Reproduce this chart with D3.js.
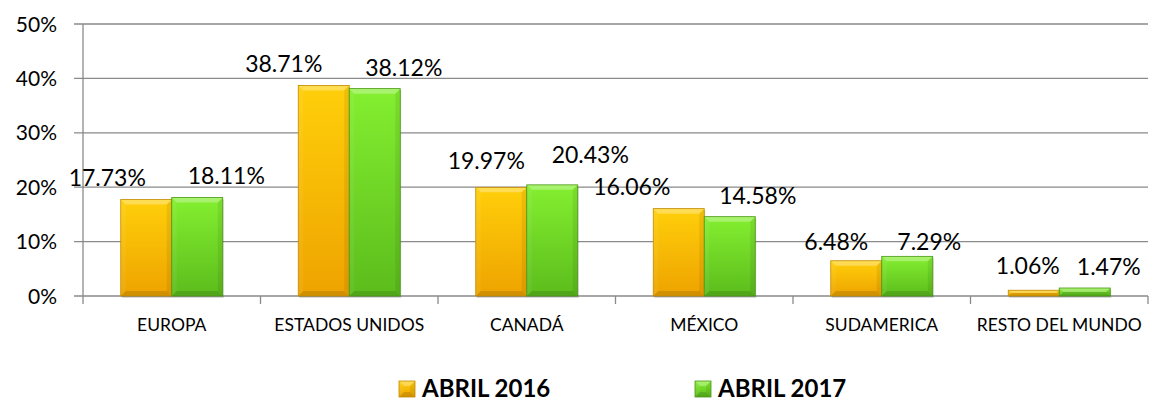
<!DOCTYPE html>
<html>
<head>
<meta charset="utf-8">
<script src="https://cdn.jsdelivr.net/npm/d3@7"></script>
<style>
    body { margin: 0; background: #fff; }
    #chart { width: 1152px; height: 402px; }
    text { font-family: Lato, "Open Sans", sans-serif; fill: #000; }
</style>
</head>
<body>
<div id="chart"></div>
<script>
// categories and series
let regions = ["EUROPA", "ESTADOS UNIDOS", "CANADÁ", "MÉXICO", "SUDAMERICA", "RESTO DEL MUNDO"]
let seriesNames = ["ABRIL 2016", "ABRIL 2017"]
let abril2016 = [17.73, 38.71, 19.97, 16.06, 6.48, 1.06]
let abril2017 = [18.11, 38.12, 20.43, 14.58, 7.29, 1.47]
let yTicks = [0, 10, 20, 30, 40, 50]

// label nudges (px) copied from the hand-placed labels in the original
let labelDx2016 = [-39, -40, -15, -47, -20, -6]
let labelDy2016 = [-22, -22, -27, -22, -19, -25]
let labelDx2017 = [29, 29, 38, 28, 22, 24]
let labelDy2017 = [-22, -21, -30, -21, -15, -21]

let vis_colors = [
    {top: "#ffcf0a", bottom: "#eea300", stroke: "#c18a00"},
    {top: "#84ef30", bottom: "#5cbc1c", stroke: "#4a9616"}
]

class barVis {

    constructor(parentElement) {
        this.parentElement = parentElement
        this.initVis()
    }

    initVis() {
        let vis = this

        vis.margin = {top: 24, right: 4, bottom: 106, left: 83}
        vis.width = 1152 - vis.margin.left - vis.margin.right
        vis.height = 402 - vis.margin.top - vis.margin.bottom

        vis.svg = d3.select(`#${vis.parentElement}`)
            .append("svg")
            .attr("width", 1152)
            .attr("height", 402)

        vis.g = vis.svg.append("g")
            .attr("transform", `translate(${vis.margin.left}, ${vis.margin.top})`)

        // gradients
        let defs = vis.svg.append("defs")
        vis_colors.forEach((c, i) => {
            let grad = defs.append("linearGradient")
                .attr("id", "grad" + i)
                .attr("x1", 0).attr("y1", 0).attr("x2", 0).attr("y2", 1)
            grad.append("stop").attr("offset", "0%").attr("stop-color", c.top)
            grad.append("stop").attr("offset", "100%").attr("stop-color", c.bottom)
        })

        vis.x = d3.scaleBand().domain(regions).range([0, vis.width]).padding(0)
        vis.xInner = d3.scaleBand().domain(seriesNames).range([0, 102]).padding(0)
        vis.y = d3.scaleLinear().domain([0, 50]).range([vis.height, 0])

        // gridlines + y ticks
        vis.g.selectAll(".grid")
            .data(yTicks)
            .enter().append("line")
            .attr("class", "grid")
            .attr("x1", -9)
            .attr("x2", vis.width)
            .attr("y1", d => vis.y(d))
            .attr("y2", d => vis.y(d))
            .attr("stroke", "#8a8a8a")
            .attr("stroke-width", 1.3)

        vis.g.append("line")
            .attr("x1", 0).attr("x2", 0)
            .attr("y1", 0).attr("y2", vis.height)
            .attr("stroke", "#8a8a8a")
            .attr("stroke-width", 1.3)

        vis.g.selectAll(".ylabels")
            .data(yTicks)
            .enter().append("text")
            .attr("class", "ylabels")
            .attr("x", -26)
            .attr("y", d => vis.y(d) + 7.5)
            .attr("text-anchor", "end")
            .attr("font-size", 21)
            .text(d => d + "%")

        // x ticks at category boundaries
        let bounds = regions.map(r => vis.x(r)).concat([vis.width])
        vis.g.selectAll(".xtick")
            .data(bounds)
            .enter().append("line")
            .attr("class", "xtick")
            .attr("x1", d => d).attr("x2", d => d)
            .attr("y1", vis.height).attr("y2", vis.height + 8)
            .attr("stroke", "#8a8a8a")
            .attr("stroke-width", 1.3)

        vis.g.selectAll(".xlabels")
            .data(regions)
            .enter().append("text")
            .attr("class", "xlabels")
            .attr("x", d => vis.x(d) + vis.x.bandwidth() / 2)
            .attr("y", vis.height + 35)
            .attr("text-anchor", "middle")
            .attr("font-size", 17.5)
            .text(d => d)

        vis.wrangleData()
    }

    wrangleData() {
        let vis = this

        vis.displayData = []
        regions.forEach((r, i) => {
            vis.displayData.push({region: r, series: 0, value: abril2016[i], dx: labelDx2016[i], dy: labelDy2016[i]})
            vis.displayData.push({region: r, series: 1, value: abril2017[i], dx: labelDx2017[i], dy: labelDy2017[i]})
        })

        vis.updateVis()
    }

    bevel(sel, x, y, w, h, s) {
        // draws the bevel faces on top of a plain bar
        let b = Math.min(5, h / 2, w / 2)
        sel.append("polygon")
            .attr("points", `${x},${y} ${x + w},${y} ${x + w - b},${y + b} ${x + b},${y + b}`)
            .attr("fill", "rgba(255,255,255,0.3)")
        sel.append("polygon")
            .attr("points", `${x},${y} ${x + b},${y + b} ${x + b},${y + h - b} ${x},${y + h}`)
            .attr("fill", "rgba(255,255,255,0.06)")
        sel.append("polygon")
            .attr("points", `${x + w},${y} ${x + w},${y + h} ${x + w - b},${y + h - b} ${x + w - b},${y + b}`)
            .attr("fill", "rgba(0,0,0,0.07)")
        sel.append("polygon")
            .attr("points", `${x},${y + h} ${x + b},${y + h - b} ${x + w - b},${y + h - b} ${x + w},${y + h}`)
            .attr("fill", "rgba(0,0,0,0.12)")
        sel.append("rect")
            .attr("x", x).attr("y", y)
            .attr("width", w).attr("height", h)
            .attr("fill", "none")
            .attr("stroke", vis_colors[s].stroke)
            .attr("stroke-width", 0.8)
    }

    updateVis() {
        let vis = this
        let bw = vis.xInner.bandwidth()

        vis.displayData.forEach(d => {
            let cx = vis.x(d.region) + vis.x.bandwidth() / 2 - 51
            let x = cx + vis.xInner(seriesNames[d.series])
            let y = vis.y(d.value)
            let h = vis.height - y
            let grp = vis.g.append("g").attr("class", "bar")

            // soft shadow
            grp.append("rect")
                .attr("x", x + 1).attr("y", y + 2)
                .attr("width", bw).attr("height", h)
                .attr("fill", "rgba(0,0,0,0.15)")
            grp.append("rect")
                .attr("x", x).attr("y", y)
                .attr("width", bw).attr("height", h)
                .attr("fill", `url(#grad${d.series})`)
            vis.bevel(grp, x, y, bw, h, d.series)

            vis.g.append("text")
                .attr("class", "vlabel")
                .attr("x", x + bw / 2 + d.dx)
                .attr("y", y + d.dy + 8.3)
                .attr("text-anchor", "middle")
                .attr("font-size", 23)
                .text(d.value.toFixed(2) + "%")
        })

        // legend
        let legend = vis.svg.selectAll(".legend")
            .data(seriesNames)
            .enter().append("g")
            .attr("class", "legend")
            .attr("transform", (d, i) => `translate(${399 + i * 296}, 381)`)
        legend.append("rect")
            .attr("width", 16).attr("height", 16)
            .attr("fill", (d, i) => `url(#grad${i})`)
        legend.each(function (d, i) {
            vis.bevel(d3.select(this), 0, 0, 16, 16, i)
        })
        legend.append("text")
            .attr("x", 23)
            .attr("y", 16)
            .attr("font-size", 24)
            .attr("font-weight", "bold")
            .text(d => d)
    }
}

let chart = new barVis("chart")
</script>
</body>
</html>
